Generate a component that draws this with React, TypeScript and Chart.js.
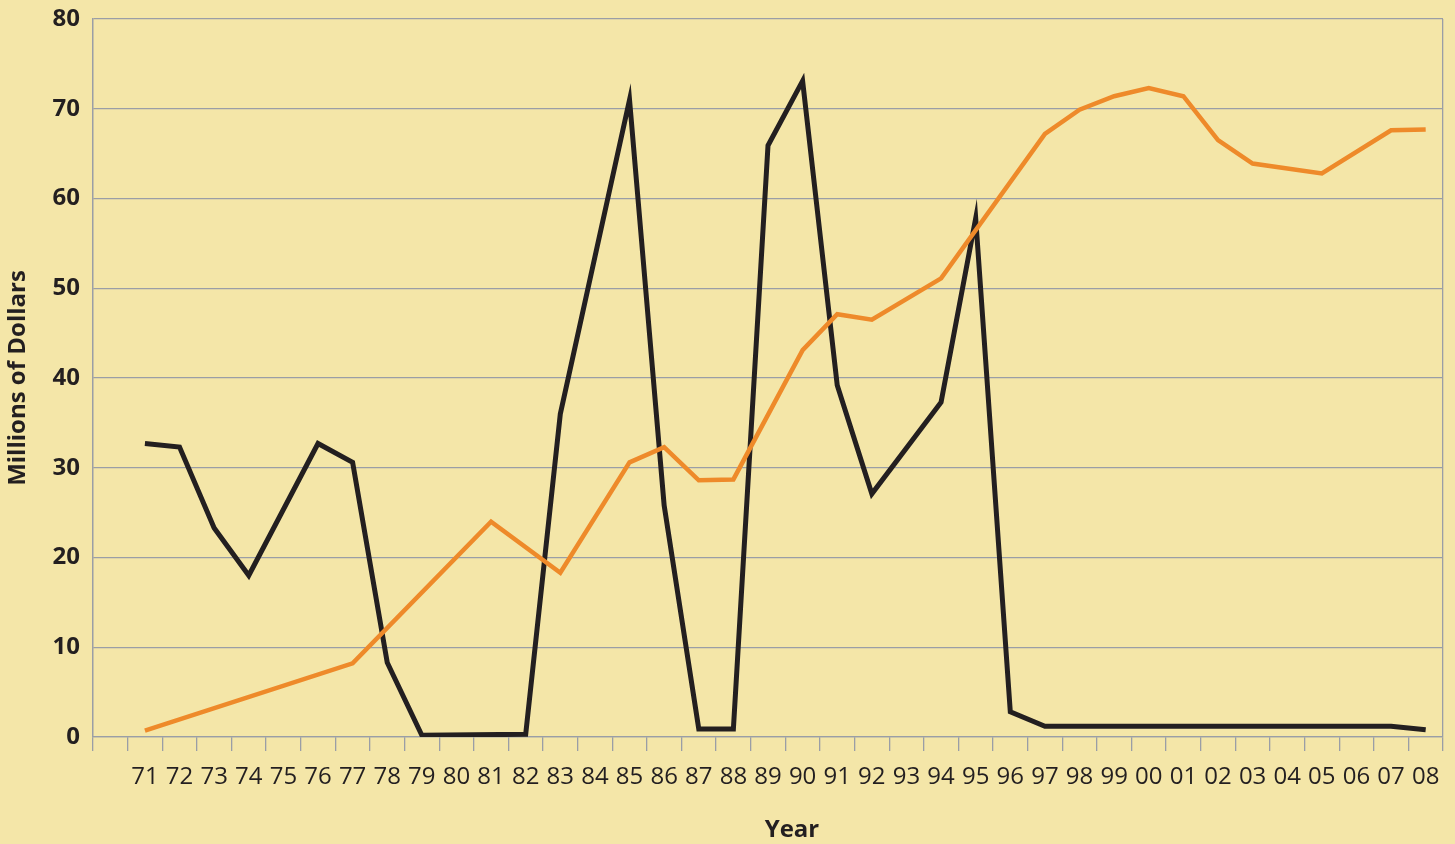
import React, { useEffect, useRef } from 'react';
import { Chart, registerables } from 'chart.js';

Chart.register(...registerables);

// Category slots: the first slot is an empty lead-in before 1971
const years = ['', '71', '72', '73', '74', '75', '76', '77', '78', '79', '80', '81', '82', '83', '84', '85', '86', '87', '88', '89', '90', '91', '92', '93', '94', '95', '96', '97', '98', '99', '00', '01', '02', '03', '04', '05', '06', '07', '08'];

// Black series (millions of dollars); null = no plotted point (line spans)
const blackSeries: (number | null)[] = [
  null,
  32.7, 32.3, 23.3, 18.0, null, 32.7, 30.6, 8.3, 0.2, null,
  null, 0.3, 36.0, null, 71.0, 25.8, 0.9, 0.9, 65.9, 73.1,
  39.2, 27.1, null, 37.3, 57.8, 2.8, 1.2, 1.2, 1.2, 1.2,
  1.2, 1.2, 1.2, 1.2, 1.2, 1.2, 1.2, 0.8,
];

// Orange series (millions of dollars)
const orangeSeries: (number | null)[] = [
  null,
  0.7, null, null, null, null, null, 8.2, null, null, null,
  24.0, null, 18.3, null, 30.6, 32.3, 28.6, 28.7, null, 43.1,
  47.1, 46.5, null, 51.1, null, null, 67.2, 69.9, 71.4, 72.3,
  71.4, 66.5, 63.9, null, 62.8, null, 67.6, 67.7,
];

const yTicks = [0, 10, 20, 30, 40, 50, 60, 70, 80];
const yTitle = 'Millions of Dollars';
const xTitle = 'Year';

const BG = '#F4E6A8';
const GRID = '#9A9EA6';
const TEXT = '#231F20';
const ORANGE = '#EE8A2A';
const BLACK = '#231F20';
const FONT = '"Open Sans", "Noto Sans", sans-serif';

const yearTitlePlugin = {
  id: 'yearTitle',
  afterDraw(chart: any) {
    const { ctx, chartArea } = chart;
    const xs = chart.scales.x;
    ctx.save();
    ctx.font = `bold 24px ${FONT}`;
    ctx.fillStyle = TEXT;
    ctx.textAlign = 'center';
    ctx.textBaseline = 'middle';
    const cx = (xs.getPixelForValue(1) + chartArea.right) / 2 - 2;
    ctx.fillText(xTitle, cx, chart.height - 14);
    ctx.restore();
  },
};

export default function App() {
  const ref = useRef<HTMLCanvasElement | null>(null);

  useEffect(() => {
    if (!ref.current) return;
    const chart = new Chart(ref.current, {
      type: 'line',
      data: {
        labels: years,
        datasets: [
          {
            label: 'Orange',
            data: orangeSeries,
            borderColor: ORANGE,
            borderWidth: 4.5,
            pointRadius: 0,
            pointHoverRadius: 0,
            tension: 0,
            spanGaps: true,
            borderJoinStyle: 'miter',
            fill: false,
          },
          {
            label: 'Black',
            data: blackSeries,
            borderColor: BLACK,
            borderWidth: 5,
            pointRadius: 0,
            pointHoverRadius: 0,
            tension: 0,
            spanGaps: true,
            borderJoinStyle: 'miter',
            fill: false,
          },
        ],
      },
      options: {
        responsive: false,
        animation: false,
        events: [],
        layout: { padding: { top: 19, right: 12, left: 0, bottom: 0 } },
        plugins: {
          legend: { display: false },
          tooltip: { enabled: false },
          title: { display: false },
        },
        scales: {
          x: {
            type: 'category',
            offset: true,
            grid: {
              offset: true,
              drawOnChartArea: true,
              drawTicks: true,
              tickLength: 14,
              lineWidth: 1.3,
              color: (c: any) => (c.index === undefined || c.index === 0 ? GRID : 'rgba(0,0,0,0)'),
              tickColor: GRID,
              tickWidth: 1.3,
            },
            border: { display: true, color: GRID, width: 1.3 },
            ticks: {
              autoSkip: false,
              maxRotation: 0,
              minRotation: 0,
              padding: 12,
              color: TEXT,
              font: { family: FONT, size: 24, weight: 'normal' },
            },
            afterFit: (scale: any) => {
              scale.height = 107;
            },
          },
          y: {
            type: 'linear',
            min: 0,
            max: 80,
            afterBuildTicks: (scale: any) => {
              scale.ticks = yTicks.map((v) => ({ value: v }));
            },
            grid: {
              drawTicks: false,
              lineWidth: 1.3,
              color: GRID,
            },
            border: { display: true, color: GRID, width: 1.3 },
            ticks: {
              padding: 13,
              color: TEXT,
              font: { family: FONT, size: 24, weight: 'bold' },
            },
            title: {
              display: true,
              text: yTitle,
              color: TEXT,
              padding: { top: 4, bottom: 0 },
              font: { family: FONT, size: 24, weight: 'bold' },
            },
            afterFit: (scale: any) => {
              scale.width = 93;
              scale.paddingTop = 0;
              scale.paddingBottom = 0;
            },
          },
        },
      },
      plugins: [yearTitlePlugin],
    });
    return () => chart.destroy();
  }, []);

  return (
    <div style={{ position: 'fixed', left: 0, top: 0, width: 1455, height: 844, background: BG }}>
      <canvas ref={ref} width={1455} height={844} style={{ display: 'block', width: 1455, height: 844 }} />
    </div>
  );
}
